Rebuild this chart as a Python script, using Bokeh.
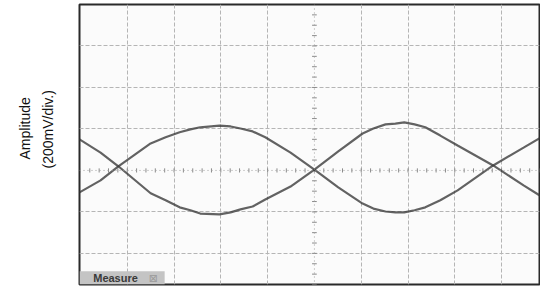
import numpy as np
from bokeh.plotting import figure
from bokeh.models import Grid, FixedTicker, Span, Label, BoxAnnotation, Range1d, Title
from bokeh.embed import file_html
from bokeh.resources import INLINE

# ---- data (time and amplitude in screen divisions) ----
time_div = [-5.02, -4.57, -4.19, -3.50, -3.18, -2.88, -2.65, -2.44, -2.03, -1.79,
            -1.58, -1.32, -1.05, -0.51, 0.00, 0.51, 1.03, 1.26, 1.52, 1.73,
            1.92, 2.14, 2.37, 2.69, 3.06, 3.82, 4.47, 4.98]
trace_a = [-0.53, -0.24, 0.10, 0.65, 0.80, 0.92, 0.99, 1.04, 1.08, 1.06,
           1.01, 0.94, 0.80, 0.43, 0.02, -0.41, -0.80, -0.92, -0.99, -1.01,
           -1.01, -0.96, -0.89, -0.72, -0.48, 0.12, 0.55, 0.89]
trace_b = [0.75, 0.43, 0.10, -0.55, -0.72, -0.89, -0.96, -1.04, -1.06, -1.01,
           -0.94, -0.87, -0.70, -0.39, 0.02, 0.46, 0.89, 1.01, 1.11, 1.13,
           1.16, 1.11, 1.04, 0.84, 0.60, 0.12, -0.36, -0.72]

x_major = [-4, -3, -2, -1, 1, 2, 3, 4]
y_major = [-2, -1, 1, 2, 3]
y_label_1 = "Amplitude"
y_label_2 = "(200mV/div.)"
tab_text = "Measure"

p = figure(width=540, height=286, output_backend="svg", toolbar_location=None,
           x_axis_type=None, y_axis_type=None,
           x_range=Range1d(-5.02, 4.81), y_range=Range1d(-2.75, 4.0),
           min_border_left=79, min_border_right=1, min_border_top=4, min_border_bottom=2)
p.background_fill_color = "#fbfbfb"
p.border_fill_color = "white"
p.outline_line_color = "#2a2a2a"
p.outline_line_width = 2

p.add_layout(Grid(dimension=0, ticker=FixedTicker(ticks=x_major),
                  grid_line_color="#b5b5b5", grid_line_dash="4 2", grid_line_width=1))
p.add_layout(Grid(dimension=1, ticker=FixedTicker(ticks=y_major),
                  grid_line_color="#b5b5b5", grid_line_dash="4 2", grid_line_width=1))

# centre lines with sub-division ticks
p.add_layout(Span(location=0, dimension="height", line_color="#a0a0a0",
                  line_dash="1 3", line_width=1))
p.add_layout(Span(location=0, dimension="width", line_color="#a0a0a0",
                  line_dash="1 3", line_width=1))
sub_x = np.arange(-5.0, 5.01, 0.2)
p.segment(x0=sub_x, y0=-0.05, x1=sub_x, y1=0.05, line_color="#8a8a8a", line_width=1)
sub_y = np.arange(-2.75, 4.0, 0.25)
p.segment(x0=-0.05, y0=sub_y, x1=0.05, y1=sub_y, line_color="#8a8a8a", line_width=1)

# traces
p.line(time_div, trace_a, line_color="#3c3c3c", line_width=2.2, line_alpha=0.8)
p.line(time_div, trace_b, line_color="#3c3c3c", line_width=2.2, line_alpha=0.8)

# "Measure" tab
p.add_layout(BoxAnnotation(left=-5.02, right=-3.20, bottom=-2.75, top=-2.43,
                           fill_color="#c4c4c4", fill_alpha=1.0, line_color=None))
p.add_layout(Label(x=-4.25, y=-2.60, text=tab_text, text_font="Liberation Sans",
                   text_font_size="11px", text_font_style="bold", text_color="#3a3a3a",
                   text_align="center", text_baseline="middle"))
p.add_layout(Label(x=-3.44, y=-2.60, text="\u22a0", text_font="DejaVu Sans",
                   text_font_size="11px", text_color="#9a9a9a",
                   text_align="center", text_baseline="middle"))

# y label: spacer + two rotated lines in the left panel
p.add_layout(Title(text=" ", standoff=16, text_font_size="1px"), "left")
p.add_layout(Title(text=y_label_2, align="left", offset=116, standoff=10,
                   text_font="Liberation Sans", text_font_size="14px",
                   text_font_style="normal", text_color="#111111"), "left")
p.add_layout(Title(text=y_label_1, align="left", offset=125, standoff=0,
                   text_font="Liberation Sans", text_font_size="14px",
                   text_font_style="normal", text_color="#111111"), "left")

open("out.html", "w").write(file_html(p, INLINE))
